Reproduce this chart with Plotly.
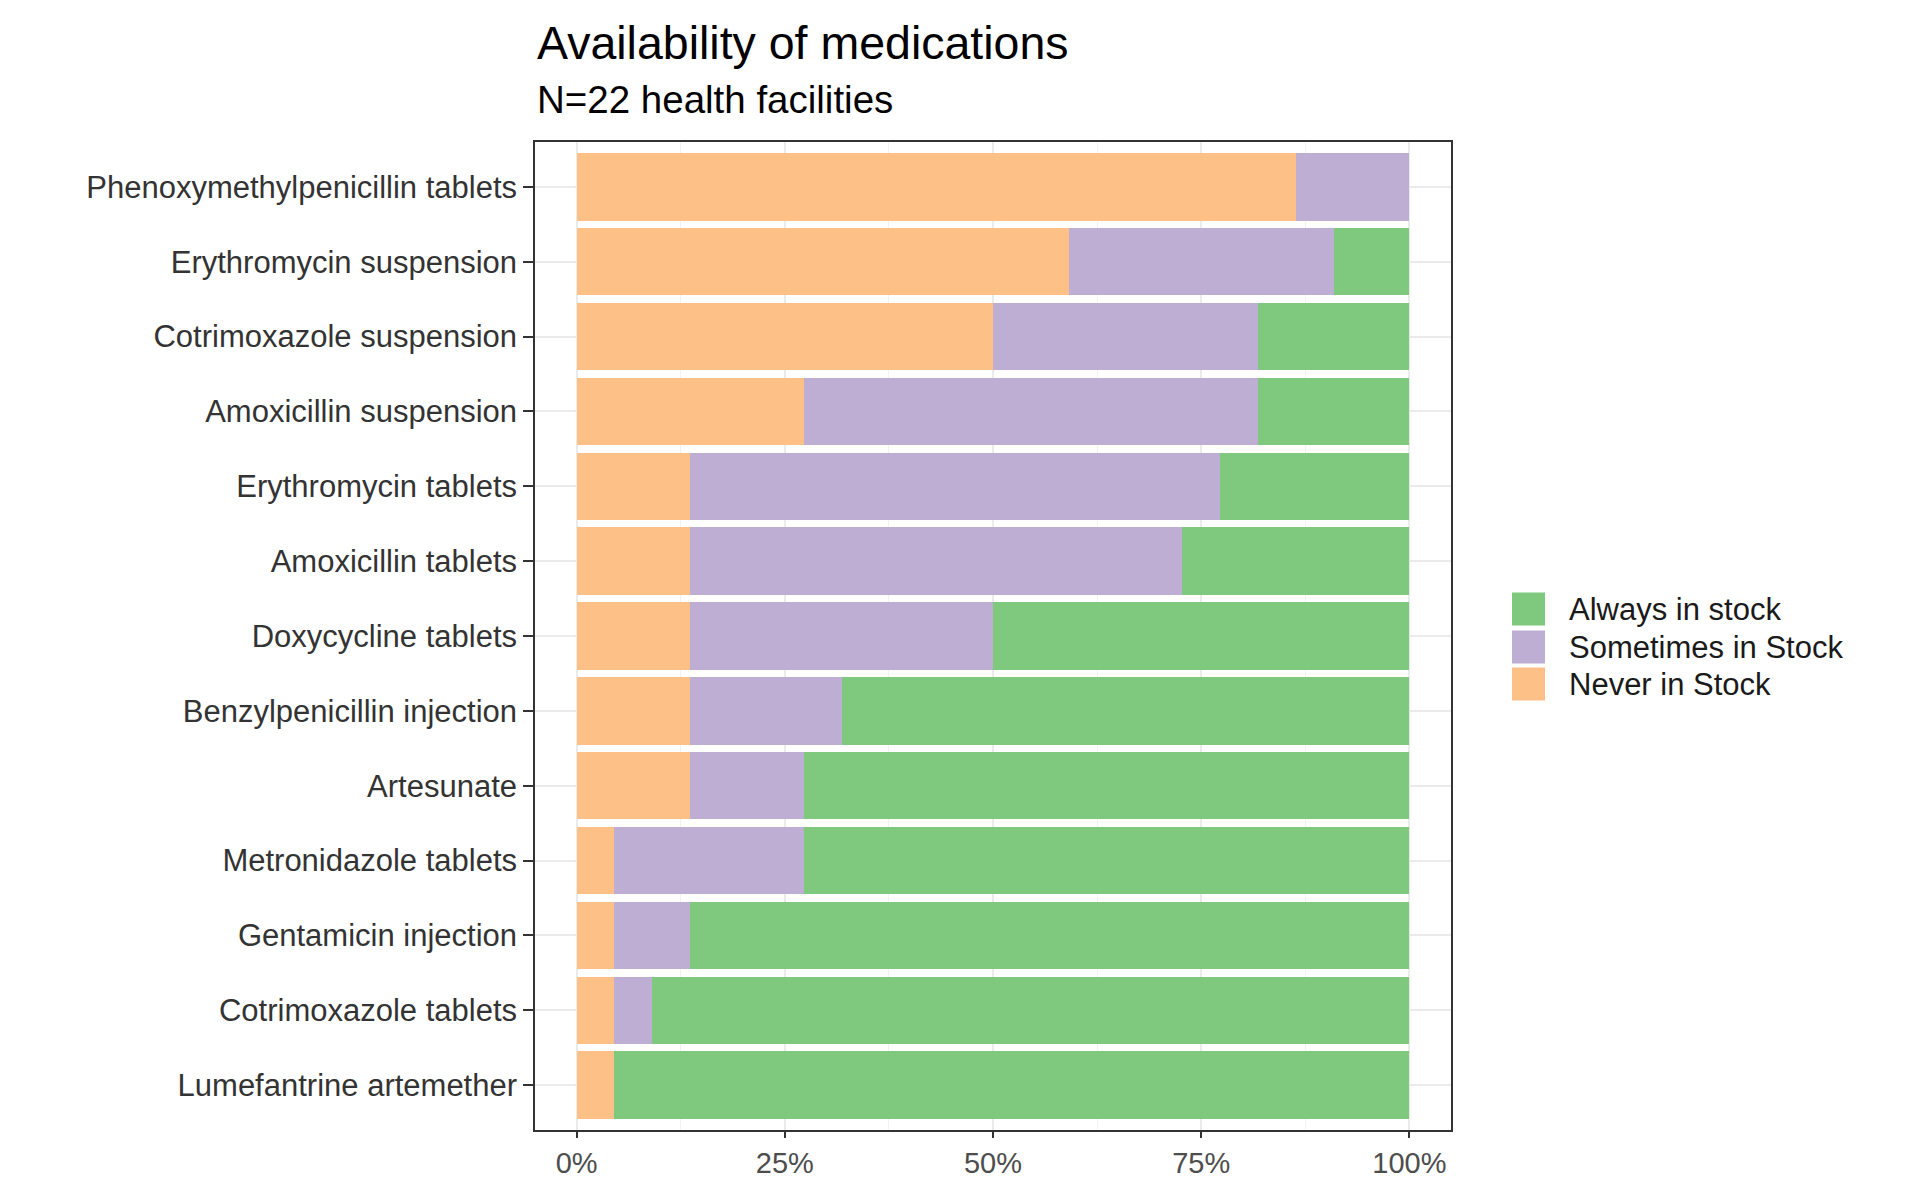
import plotly.graph_objects as go

N_FACILITIES = 22
categories = [
    "Phenoxymethylpenicillin tablets",
    "Erythromycin suspension",
    "Cotrimoxazole suspension",
    "Amoxicillin suspension",
    "Erythromycin tablets",
    "Amoxicillin tablets",
    "Doxycycline tablets",
    "Benzylpenicillin injection",
    "Artesunate",
    "Metronidazole tablets",
    "Gentamicin injection",
    "Cotrimoxazole tablets",
    "Lumefantrine artemether",
]
never_counts = [19, 13, 11, 6, 3, 3, 3, 3, 3, 1, 1, 1, 1]
sometimes_counts = [3, 7, 7, 12, 14, 13, 8, 4, 3, 5, 2, 1, 0]
always_counts = [0, 2, 4, 4, 5, 6, 11, 15, 16, 16, 19, 20, 21]

series_names = ["Never in Stock", "Sometimes in Stock", "Always in stock"]
series_counts = [never_counts, sometimes_counts, always_counts]
series_colors = ["#FDC086", "#BEAED4", "#7FC97F"]
x_ticks = [0, 0.25, 0.5, 0.75, 1.0]
x_ticklabels = ["0%", "25%", "50%", "75%", "100%"]

FONT = "Liberation Sans, Arial, Helvetica, sans-serif"
fig = go.Figure()
for name, counts, col in zip(series_names, series_counts, series_colors):
    fig.add_trace(go.Bar(
        y=categories,
        x=[c / N_FACILITIES for c in counts],
        name=name,
        orientation="h",
        marker=dict(color=col, line=dict(width=0)),
        width=0.9,
        showlegend=False,
    ))

OFF = 8  # page body margin
W, H = 1915 - OFF, 1178 - OFF
ml, mt = 535 - OFF, 142 - OFF
plot_right, plot_bottom = 1451 - OFF, 1130 - OFF
mr, mb = W - plot_right, H - plot_bottom
fig.update_layout(
    width=W, height=H,
    barmode="stack",
    plot_bgcolor="white",
    paper_bgcolor="white",
    margin=dict(l=ml, r=mr, t=mt, b=mb, autoexpand=False),
    font=dict(family=FONT, size=31, color="#1a1a1a"),
)
fig.update_xaxes(
    range=[-0.05, 1.05],
    tickvals=x_ticks, ticktext=x_ticklabels,
    showgrid=True, gridcolor="#EBEBEB", gridwidth=2,
    minor=dict(dtick=0.125, tick0=0, showgrid=True, gridcolor="#F2F2F2", gridwidth=1),
    showline=True, linecolor="#333333", linewidth=1.5, mirror=True,
    ticks="outside", ticklen=6, tickwidth=1.5, tickcolor="#333333",
    tickfont=dict(family=FONT, size=29, color="#4D4D4D"),
    zeroline=False,
)
fig.update_yaxes(
    categoryorder="array", categoryarray=categories,
    range=[len(categories) - 0.4, -0.6],
    showgrid=True, gridcolor="#EBEBEB", gridwidth=2,
    showline=True, linecolor="#333333", linewidth=1.5, mirror=True,
    ticks="outside", ticklen=10, tickwidth=1.5, tickcolor="#333333",
    tickfont=dict(family=FONT, size=31, color="#333333"),
    zeroline=False,
)

plot_h = H - mt - mb
plot_w = W - ml - mr

def py(y_page):
    return (plot_bottom - (y_page - OFF)) / plot_h

def px(x_page):
    return ((x_page - OFF) - ml) / plot_w

fig.add_annotation(text="Availability of medications", xref="paper", yref="paper",
                   x=0, y=py(43), xanchor="left", yanchor="middle",
                   showarrow=False, font=dict(family=FONT, size=46.5, color="black"))
fig.add_annotation(text="N=22 health facilities", xref="paper", yref="paper",
                   x=0, y=py(100), xanchor="left", yanchor="middle",
                   showarrow=False, font=dict(family=FONT, size=38.5, color="black"))

# legend (ggplot-style keys)
legend_order = [2, 1, 0]
row_centers = [609, 647, 684]
for i, idx in enumerate(legend_order):
    yc = py(row_centers[i])
    half = 16.5 / plot_h
    fig.add_shape(type="rect", xref="paper", yref="paper",
                  x0=px(1512), x1=px(1545), y0=yc - half, y1=yc + half,
                  fillcolor=series_colors[idx], line=dict(width=0))
    fig.add_annotation(text=series_names[idx], xref="paper", yref="paper",
                       x=px(1567), y=yc, xanchor="left", yanchor="middle",
                       showarrow=False, font=dict(family=FONT, size=31, color="#1a1a1a"))

fig.write_html("out.html")
